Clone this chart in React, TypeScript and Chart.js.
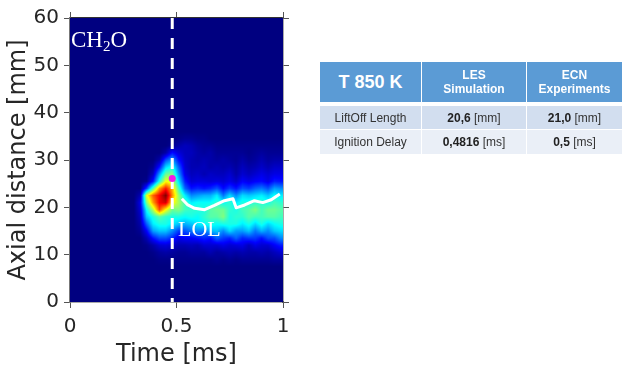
import React, { useEffect, useRef } from "react";
import { Chart, registerables } from "chart.js";

Chart.register(...registerables);

const timeCenters = [0.30, 0.33, 0.36, 0.39, 0.42, 0.45, 0.48, 0.51, 0.54, 0.57, 0.60, 0.63, 0.66, 0.69, 0.72, 0.75, 0.78, 0.81, 0.84, 0.87, 0.90, 0.93, 0.96, 0.99];
const axialCenters = [36, 34.5, 33, 31.5, 30, 28.5, 27, 25.5, 24, 22.5, 21, 19.5, 18, 16.5, 15, 13.5, 12, 10.5, 9, 7.5];
const ch2o = [
  [0, 0, 0, 0, 0, 0, 0, 0, 0, 0, 0, 0, 0, 0, 0, 0, 0, 0, 0, 0, 0, 0, 0, 0],
  [0, 0, 0, 0, 0, 0, 0, 1, 2, 2, 1, 1, 0, 0, 0, 0, 0, 0, 0, 0, 0, 0, 0, 0],
  [0, 0, 0, 0, 0, 0, 2, 4, 6, 5, 3, 2, 2, 1, 1, 1, 1, 1, 1, 1, 1, 1, 1, 1],
  [0, 0, 0, 0, 0, 4, 14, 9, 6, 6, 4, 3, 4, 2, 2, 2, 2, 2, 1, 2, 3, 2, 2, 2],
  [0, 0, 0, 0, 4, 20, 28, 14, 7, 5, 4, 5, 4, 3, 4, 3, 2, 4, 2, 3, 5, 3, 4, 4],
  [0, 0, 0, 2, 14, 34, 40, 22, 8, 5, 5, 6, 4, 5, 4, 5, 3, 6, 4, 5, 7, 5, 7, 7],
  [0, 0, 0, 6, 28, 48, 50, 28, 10, 6, 7, 5, 7, 6, 6, 8, 4, 8, 6, 8, 10, 8, 10, 10],
  [0, 0, 1, 14, 40, 62, 58, 35, 15, 8, 9, 9, 8, 9, 8, 10, 7, 12, 10, 12, 13, 10, 15, 14],
  [0, 0, 18, 45, 72, 85, 70, 44, 22, 14, 16, 14, 16, 20, 13, 18, 14, 20, 18, 22, 24, 20, 28, 26],
  [0, 5, 60, 78, 88, 100, 74, 52, 36, 26, 28, 30, 30, 36, 24, 34, 26, 34, 32, 34, 36, 32, 38, 36],
  [0, 10, 50, 72, 88, 92, 64, 54, 44, 36, 38, 38, 38, 42, 38, 42, 36, 40, 40, 42, 42, 40, 44, 42],
  [0, 8, 38, 55, 80, 62, 48, 50, 44, 42, 42, 40, 46, 48, 48, 42, 40, 44, 46, 50, 44, 48, 48, 46],
  [0, 6, 32, 40, 46, 42, 40, 40, 38, 40, 38, 42, 46, 46, 50, 40, 42, 42, 46, 44, 44, 46, 46, 44],
  [0, 4, 22, 36, 40, 40, 36, 32, 30, 32, 36, 38, 40, 38, 40, 40, 40, 36, 40, 34, 40, 34, 38, 40],
  [0, 2, 12, 28, 32, 32, 26, 18, 20, 24, 26, 24, 30, 32, 26, 34, 28, 28, 32, 24, 30, 26, 32, 34],
  [0, 0, 5, 14, 20, 20, 16, 10, 12, 12, 14, 16, 14, 22, 18, 16, 22, 16, 18, 18, 14, 20, 20, 26],
  [0, 0, 1, 4, 8, 9, 7, 5, 5, 6, 5, 8, 8, 8, 10, 8, 9, 10, 6, 10, 8, 8, 12, 15],
  [0, 0, 0, 1, 3, 4, 3, 2, 2, 3, 3, 3, 5, 3, 4, 5, 4, 5, 4, 4, 5, 4, 6, 8],
  [0, 0, 0, 0, 1, 1, 1, 1, 1, 1, 1, 1, 1, 2, 1, 2, 1, 2, 2, 2, 2, 2, 3, 3],
  [0, 0, 0, 0, 0, 0, 0, 0, 0, 0, 0, 0, 0, 0, 0, 0, 0, 0, 0, 0, 0, 0, 0, 0],
];

const lolTime = [0.525, 0.553, 0.585, 0.632, 0.678, 0.725, 0.765, 0.78, 0.82, 0.866, 0.905, 0.945, 0.985];
const lolAxial = [21.8, 20.5, 19.8, 19.5, 20.4, 21.4, 21.8, 19.9, 20.5, 21.4, 21.0, 21.6, 22.8];
const ignitionTime = 0.48;
const ignitionAxial = 26.1;
const axialRange = [0, 60];

const tableHeaders = ["T 850 K", ["LES", "Simulation"], ["ECN", "Experiments"]];
const tableRows = [
  ["LiftOff Length", ["20,6", "[mm]"], ["21,0", "[mm]"]],
  ["Ignition Delay", ["0,4816", "[ms]"], ["0,5", "[ms]"]],
];

function jet(v: number): [number, number, number] {
  const c = (x: number) => Math.max(0, Math.min(1, x));
  const r = c(Math.min(4 * v - 1.5, -4 * v + 4.5));
  const g = c(Math.min(4 * v - 0.5, -4 * v + 3.5));
  const b = c(Math.min(4 * v + 0.5, -4 * v + 2.5));
  return [r * 255, g * 255, b * 255];
}

function sample(t: number, y: number): number {
  const dt = timeCenters[1] - timeCenters[0];
  const dy = axialCenters[0] - axialCenters[1];
  const fx = (t - timeCenters[0]) / dt;
  const fy = (axialCenters[0] - y) / dy;
  const i0 = Math.floor(fx);
  const j0 = Math.floor(fy);
  const at = (i: number, j: number) => {
    if (i < 0 || j < 0 || j >= axialCenters.length) return 0;
    return ch2o[j][Math.min(timeCenters.length - 1, i)];
  };
  const ax = fx - i0;
  const ay = fy - j0;
  return (
    (at(i0, j0) * (1 - ax) + at(i0 + 1, j0) * ax) * (1 - ay) +
    (at(i0, j0 + 1) * (1 - ax) + at(i0 + 1, j0 + 1) * ax) * ay
  );
}

const heatmapPlugin = {
  id: "heatmap",
  beforeDatasetsDraw(chart: any) {
    const { ctx, chartArea: a, scales } = chart;
    const w = Math.round(a.right - a.left);
    const h = Math.round(a.bottom - a.top);
    const img = ctx.createImageData(w, h);
    for (let py = 0; py < h; py++) {
      const y = scales.y.getValueForPixel(a.top + py + 0.5);
      for (let px = 0; px < w; px++) {
        const t = scales.x.getValueForPixel(a.left + px + 0.5);
        const [r, g, b] = jet(sample(t, y) / 100);
        const k = (py * w + px) * 4;
        img.data[k] = r;
        img.data[k + 1] = g;
        img.data[k + 2] = b;
        img.data[k + 3] = 255;
      }
    }
    ctx.putImageData(img, Math.round(a.left), Math.round(a.top));
  },
  afterDatasetsDraw(chart: any) {
    const { ctx } = chart;
    ctx.save();
    ctx.fillStyle = "#fff";
    ctx.textBaseline = "alphabetic";
    ctx.font = '23px "Liberation Serif"';
    ctx.textAlign = "left";
    ctx.fillText("CH", 71, 47);
    const chW = ctx.measureText("CH").width;
    ctx.font = '15px "Liberation Serif"';
    ctx.fillText("2", 71 + chW, 51);
    const twoW = ctx.measureText("2").width;
    ctx.font = '23px "Liberation Serif"';
    ctx.fillText("O", 71 + chW + twoW, 47);
    ctx.font = '22px "Liberation Serif"';
    ctx.fillText("LOL", 178, 236);
    ctx.restore();
  },
};

const tickFont = { family: '"DejaVu Sans"', size: 20 };
const titleFont = { family: '"DejaVu Sans"', size: 24 };
const axisColor = "#555";
const hideGrid = { drawOnChartArea: false, drawTicks: true, tickLength: 6, tickColor: axisColor };

const cellBase: React.CSSProperties = {
  position: "absolute",
  display: "flex",
  flexDirection: "column",
  alignItems: "center",
  justifyContent: "center",
  textAlign: "center",
  fontFamily: '"Liberation Sans", Arial, sans-serif',
  boxSizing: "border-box",
};
const columns = [[320, 101], [422, 104], [527, 95]];
const bodyRows = [[106, 23, "#D2DEEF"], [130, 24, "#EAEFF7"]] as const;

export default function App() {
  const ref = useRef<HTMLCanvasElement>(null);
  useEffect(() => {
    const chart = new Chart(ref.current!, {
      type: "scatter",
      data: {
        datasets: [
          {
            data: [{ x: ignitionTime, y: ignitionAxial }],
            pointRadius: 3.5,
            pointBackgroundColor: "#f01be6",
            pointBorderWidth: 0,
            showLine: false,
          },
          {
            data: axialRange.map((y) => ({ x: ignitionTime, y })).reverse(),
            showLine: true,
            borderColor: "#fff",
            borderWidth: 3,
            borderDash: [11, 9],
            pointRadius: 0,
          },
          {
            data: lolTime.map((x, i) => ({ x, y: lolAxial[i] })),
            showLine: true,
            borderColor: "#fff",
            borderWidth: 3,
            pointRadius: 0,
            borderJoinStyle: "round",
          },
        ],
      },
      options: {
        responsive: false,
        animation: false,
        events: [],
        layout: { padding: 0 },
        plugins: { legend: { display: false }, tooltip: { enabled: false } },
        scales: {
          x: {
            type: "linear",
            position: "bottom",
            min: 0,
            max: 1,
            afterFit: (s: any) => { s.height = 76; },
            ticks: {
              stepSize: 0.5,
              font: tickFont,
              color: "#262626",
              padding: 7,
              maxRotation: 0,
              callback: (v: any) => String(v),
            },
            grid: hideGrid,
            border: { color: axisColor, width: 1.5 },
            title: { display: true, text: "Time [ms]", font: titleFont, color: "#262626", padding: { top: 2, bottom: 9 } },
          },
          xTop: {
            type: "linear",
            position: "top",
            min: 0,
            max: 1,
            afterFit: (s: any) => { s.height = 18; },
            ticks: { stepSize: 0.5, display: false },
            grid: hideGrid,
            border: { color: "#333", width: 1.5 },
          },
          y: {
            type: "linear",
            position: "left",
            min: 0,
            max: 60,
            afterFit: (s: any) => { s.width = 70; },
            ticks: { stepSize: 10, font: tickFont, color: "#262626", padding: 5 },
            grid: hideGrid,
            border: { color: "#777", width: 1.5 },
            title: { display: true, text: "Axial distance [mm]", font: titleFont, color: "#262626", padding: { top: 4, bottom: 0 } },
          },
          yRight: {
            type: "linear",
            position: "right",
            min: 0,
            max: 60,
            afterFit: (s: any) => { s.width = 344; },
            ticks: { stepSize: 10, display: false },
            grid: hideGrid,
            border: { color: axisColor, width: 1.5 },
          },
        },
      },
      plugins: [heatmapPlugin],
    } as any);
    return () => chart.destroy();
  }, []);

  return (
    <div style={{ position: "absolute", left: 0, top: 0, width: 627, height: 378, background: "#fff", overflow: "hidden" }}>
      <canvas ref={ref} width={627} height={378} style={{ display: "block" }} />
      {tableHeaders.map((h, i) => (
        <div
          key={i}
          style={{
            ...cellBase,
            left: columns[i][0],
            width: columns[i][1],
            top: 62,
            height: 40,
            background: "#5B9BD5",
            color: "#fff",
            fontWeight: 700,
            fontSize: i === 0 ? 18 : 12,
            lineHeight: "14.5px",
          }}
        >
          {Array.isArray(h) ? h.map((t) => <span key={t}>{t}</span>) : h}
        </div>
      ))}
      {tableRows.map((row, r) =>
        row.map((c, i) => (
          <div
            key={`${r}-${i}`}
            style={{
              ...cellBase,
              flexDirection: "row",
              left: columns[i][0],
              width: columns[i][1],
              top: bodyRows[r][0],
              height: bodyRows[r][1],
              background: bodyRows[r][2],
              color: "#333",
              fontSize: 12,
            }}
          >
            {Array.isArray(c) ? (
              <span>
                <b style={{ color: "#222" }}>{c[0]}</b> {c[1]}
              </span>
            ) : (
              c
            )}
          </div>
        ))
      )}
    </div>
  );
}
